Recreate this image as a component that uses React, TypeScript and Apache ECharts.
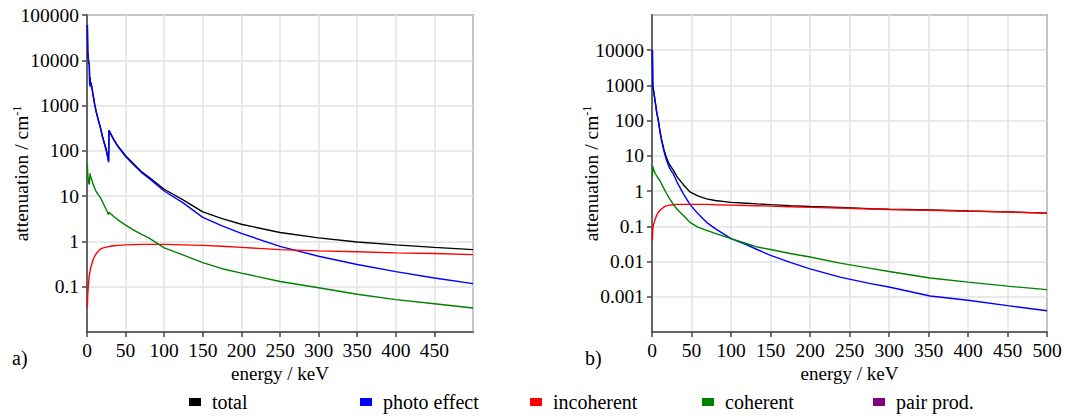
import React, { useEffect, useRef } from "react";
import * as echarts from "echarts";

// ---- panel a) ----
const energyA = [0.5, 1, 2, 3, 3.5, 4, 4.5, 5, 6.5, 8, 10, 12, 15, 17, 20, 25, 28, 28.5, 30, 35, 40, 50, 60, 70, 80, 100, 125, 150, 175, 200, 250, 300, 350, 400, 450, 500];
const totalA = [60000, 15000, 9500, 8000, 2820, 4220, 2630, 3230, 2430, 1670, 1060, 725, 460, 350, 212, 106, 60, 285, 255, 174, 128, 78, 52.5, 35.5, 26.5, 14.2, 8.2, 4.5, 3.2, 2.4, 1.57, 1.2, 0.97, 0.84, 0.74, 0.66];
const photoA = [60000, 15000, 9500, 8000, 2800, 4200, 2600, 3200, 2400, 1650, 1040, 710, 450, 340, 205, 100, 56, 280, 250, 170, 125, 75, 50, 34, 25, 13, 7, 3.4, 2.2, 1.5, 0.78, 0.47, 0.31, 0.215, 0.156, 0.117];
const incoherentA = [0.035, 0.07, 0.12, 0.18, 0.2, 0.22, 0.25, 0.27, 0.33, 0.4, 0.47, 0.54, 0.62, 0.67, 0.71, 0.75, 0.77, 0.77, 0.78, 0.8, 0.82, 0.84, 0.85, 0.86, 0.86, 0.86, 0.84, 0.82, 0.78, 0.74, 0.66, 0.62, 0.59, 0.56, 0.54, 0.51];
const coherentA = [49, 30, 20, 18, 25, 32, 28, 26, 22, 18, 15, 12.5, 10.5, 9.5, 7.5, 5, 3.9, 4.4, 4.2, 3.5, 3.0, 2.3, 1.8, 1.45, 1.2, 0.72, 0.5, 0.34, 0.25, 0.2, 0.13, 0.095, 0.068, 0.052, 0.042, 0.034];

// ---- panel b) ----
const energyB = [0.5, 1, 2, 4, 6, 8, 10, 12, 15, 18, 22, 27, 32, 40, 48, 58, 69, 80, 100, 120, 133, 150, 175, 200, 238, 275, 300, 352, 400, 450, 500];
const totalB = [10000, 1005, 704, 353, 173, 102.5, 52.3, 29.9, 15.5, 9.3, 5.7, 3.96, 2.5, 1.5, 0.95, 0.73, 0.6, 0.54, 0.48, 0.452, 0.433, 0.412, 0.386, 0.365, 0.343, 0.319, 0.307, 0.29, 0.273, 0.258, 0.237];
const photoB = [10000, 1000, 700, 350, 170, 100, 50, 28, 14, 8, 4.6, 3.1, 1.74, 0.82, 0.42, 0.23, 0.13, 0.086, 0.045, 0.03, 0.022, 0.015, 0.0095, 0.0062, 0.0036, 0.0024, 0.0019, 0.00105, 0.0008, 0.00056, 0.0004];
const incoherentB = [0.04, 0.08, 0.11, 0.16, 0.21, 0.25, 0.28, 0.31, 0.35, 0.38, 0.4, 0.41, 0.42, 0.42, 0.42, 0.42, 0.42, 0.41, 0.4, 0.39, 0.385, 0.375, 0.36, 0.345, 0.33, 0.31, 0.3, 0.285, 0.27, 0.255, 0.235];
const coherentB = [2.5, 5, 4.2, 3.2, 2.7, 2.3, 2.0, 1.6, 1.2, 0.9, 0.62, 0.42, 0.3, 0.2, 0.13, 0.095, 0.077, 0.063, 0.045, 0.032, 0.026, 0.022, 0.017, 0.0135, 0.009, 0.0065, 0.0052, 0.0034, 0.0026, 0.002, 0.0016];

const seriesNames = ["total", "photo effect", "incoherent", "coherent", "pair prod."];
const seriesColors = ["#000000", "#0000ff", "#ff0000", "#008000", "#800080"];
const legendLeft = [189, 360, 530, 702, 873];
const xTicks = [0, 50, 100, 150, 200, 250, 300, 350, 400, 450, 500];

const FONT = "Liberation Serif";

function pairs(xs: number[], ys: number[]) {
  return xs.map((x, i) => [x, ys[i]]);
}

function fmt(v: number) {
  if (v >= 1) return String(Math.round(v));
  return String(+v.toPrecision(1));
}

export default function App() {
  const ref = useRef<HTMLDivElement>(null);
  useEffect(() => {
    if (!ref.current) return;
    const chart = echarts.init(ref.current, undefined, { renderer: "svg" });
    const axisCommonX = (gridIndex: number, showMax: boolean) => ({
      type: "value",
      gridIndex,
      min: xTicks[0],
      max: xTicks[xTicks.length - 1],
      interval: 50,
      name: "energy / keV",
      nameLocation: "middle",
      nameGap: 32,
      nameMoveOverlap: false,
      nameTextStyle: { fontFamily: FONT, fontSize: 19, color: "#000" },
      axisLine: { show: true, lineStyle: { color: "#444", width: 1.5 } },
      axisTick: { show: true, length: 5, lineStyle: { color: "#444", width: 1.5 } },
      axisLabel: {
        fontFamily: FONT,
        fontSize: 19.5,
        color: "#000",
        margin: 8,
        showMaxLabel: showMax,
        formatter: (v: number) => String(v),
      },
      splitLine: { show: true, lineStyle: { color: "#e2e2e2", width: 1.5 } },
    });
    const axisCommonY = (gridIndex: number, min: number, max: number, showMax: boolean, nameGap: number) => ({
      type: "log",
      logBase: 10,
      gridIndex,
      min,
      max,
      name: "attenuation / cm{sup|-1}",
      nameLocation: "middle",
      nameGap,
      nameMoveOverlap: false,
      nameRotate: 90,
      nameTextStyle: {
        fontFamily: FONT,
        fontSize: 19.5,
        color: "#000",
        rich: {
          sup: { fontFamily: FONT, fontSize: 12, color: "#000", verticalAlign: "top", padding: [0, 0, 8, 0] },
        },
      },
      axisLine: { show: true, lineStyle: { color: "#444", width: 1.5 } },
      axisTick: { show: true, length: 5, lineStyle: { color: "#444", width: 1.5 } },
      axisLabel: {
        fontFamily: FONT,
        fontSize: 19.5,
        color: "#000",
        margin: 8,
        showMinLabel: false,
        showMaxLabel: showMax,
        formatter: (v: number) => fmt(v),
      },
      splitLine: { show: true, lineStyle: { color: "#e2e2e2", width: 1.5 } },
    });

    const dataA = [totalA, photoA, incoherentA, coherentA, []];
    const dataB = [totalB, photoB, incoherentB, coherentB, []];
    const series: any[] = [];
    [dataA, dataB].forEach((set, gi) => {
      const en = gi === 0 ? energyA : energyB;
      set.forEach((vals, si) => {
        series.push({
          type: "line",
          name: seriesNames[si],
          xAxisIndex: gi,
          yAxisIndex: gi,
          data: pairs(en, vals as number[]),
          showSymbol: false,
          symbol: "none",
          lineStyle: { color: seriesColors[si], width: 1.4 },
          itemStyle: { color: seriesColors[si] },
          z: 2 + si,
        });
      });
    });

    chart.setOption({
      animation: false,
      backgroundColor: "#ffffff",
      textStyle: { fontFamily: FONT },
      grid: [
        { left: 87, top: 15, width: 386, height: 317, show: true, borderColor: "#444", borderWidth: 1.5, outerBoundsMode: "none" },
        { left: 652, top: 15, width: 395, height: 317, show: true, borderColor: "#444", borderWidth: 1.5, outerBoundsMode: "none" },
      ],
      xAxis: [axisCommonX(0, false), axisCommonX(1, true)],
      yAxis: [axisCommonY(0, 0.01, 100000, true, 56), axisCommonY(1, 0.0001, 100000, false, 51)],
      legend: seriesNames.map((n, i) => ({
        data: [n],
        left: legendLeft[i],
        top: 392,
        icon: "rect",
        itemWidth: 12,
        itemHeight: 8,
        selectedMode: false,
        padding: 0,
        textStyle: { fontFamily: FONT, fontSize: 20, color: "#000", padding: [0, 0, 0, 6] },
      })),
      graphic: [
        { type: "text", left: 12, top: 348, style: { text: "a)", fontFamily: FONT, fontSize: 20, fill: "#000" } },
        { type: "text", left: 585, top: 348, style: { text: "b)", fontFamily: FONT, fontSize: 20, fill: "#000" } },
      ],
      series,
    });
    return () => chart.dispose();
  }, []);
  return (
    <div
      ref={ref}
      style={{ position: "fixed", left: 0, top: 0, width: 1065, height: 416 }}
    />
  );
}
